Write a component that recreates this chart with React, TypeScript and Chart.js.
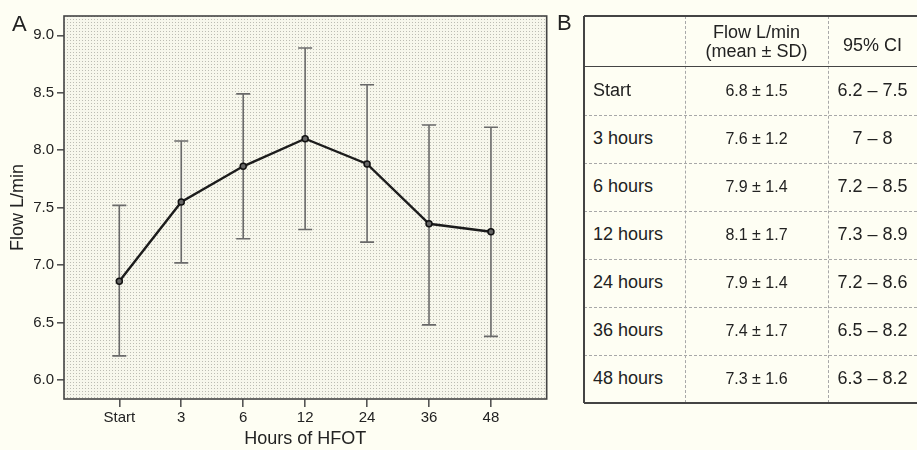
import React, { useEffect, useRef } from 'react';
import { Chart, registerables } from 'chart.js';

Chart.register(...registerables);

// ---- Panel A data ----
const categories = ['Start', '3', '6', '12', '24', '36', '48'];
const meanFlow = [6.86, 7.55, 7.86, 8.1, 7.88, 7.36, 7.29];
const upperCI = [7.52, 8.08, 8.49, 8.89, 8.57, 8.22, 8.2];
const lowerCI = [6.21, 7.02, 7.23, 7.31, 7.2, 6.48, 6.38];
const yTickValues = [6.0, 6.5, 7.0, 7.5, 8.0, 8.5, 9.0];

// ---- Panel B data ----
const rowLabels = ['Start', '3 hours', '6 hours', '12 hours', '24 hours', '36 hours', '48 hours'];
const tableMean = [6.8, 7.6, 7.9, 8.1, 7.9, 7.4, 7.3];
const tableSd = [1.5, 1.2, 1.4, 1.7, 1.4, 1.7, 1.6];
const tableCiLow = [6.2, 7, 7.2, 7.3, 7.2, 6.5, 6.3];
const tableCiHigh = [7.5, 8, 8.5, 8.9, 8.6, 8.2, 8.2];

const FONT = '"Liberation Sans", Arial, Helvetica, sans-serif';
const PAGE_BG = '#fefef3';
const TEXT = '#222';

function makePattern(ctx: CanvasRenderingContext2D) {
  const c = document.createElement('canvas');
  c.width = 3;
  c.height = 3;
  const p = c.getContext('2d')!;
  p.fillStyle = '#f7f7ec';
  p.fillRect(0, 0, 3, 3);
  p.fillStyle = '#bcbcb3';
  p.fillRect(1, 1, 1, 1);
  return ctx.createPattern(c, 'repeat');
}

const plotPlugin = {
  id: 'plotDecor',
  beforeDatasetsDraw(chart: any) {
    const { ctx, chartArea: a, scales } = chart;
    ctx.save();
    const pat = makePattern(ctx);
    ctx.fillStyle = pat || '#f2f2e6';
    ctx.fillRect(a.left, a.top, a.right - a.left, a.bottom - a.top);
    // error bars
    ctx.strokeStyle = '#6a6a6a';
    ctx.lineWidth = 1.6;
    const xs = scales.x;
    const ys = scales.y;
    for (let i = 0; i < categories.length; i++) {
      const x = xs.getPixelForValue(i);
      const yu = ys.getPixelForValue(upperCI[i]);
      const yl = ys.getPixelForValue(lowerCI[i]);
      ctx.beginPath();
      ctx.moveTo(x, yu);
      ctx.lineTo(x, yl);
      ctx.moveTo(x - 7, yu);
      ctx.lineTo(x + 7, yu);
      ctx.moveTo(x - 7, yl);
      ctx.lineTo(x + 7, yl);
      ctx.stroke();
    }
    ctx.restore();
  },
  afterDraw(chart: any) {
    const { ctx, chartArea: a } = chart;
    ctx.save();
    ctx.strokeStyle = '#444';
    ctx.lineWidth = 1.6;
    ctx.strokeRect(a.left, a.top, a.right - a.left, a.bottom - a.top);
    ctx.fillStyle = TEXT;
    ctx.font = `22px ${FONT}`;
    ctx.textBaseline = 'alphabetic';
    ctx.textAlign = 'left';
    ctx.fillText('A', 12, 30.5);
    ctx.restore();
  },
};

function FlowChart() {
  const ref = useRef<HTMLCanvasElement | null>(null);
  useEffect(() => {
    if (!ref.current) return;
    const chart = new Chart(ref.current, {
      type: 'line',
      data: {
        datasets: [
          {
            data: meanFlow.map((v, i) => ({ x: i, y: v })),
            borderColor: '#1c1c1c',
            borderWidth: 2.4,
            tension: 0,
            pointRadius: 3,
            pointBorderWidth: 1.5,
            pointBackgroundColor: '#666',
            pointBorderColor: '#111',
            fill: false,
          },
        ],
      },
      options: {
        responsive: false,
        animation: false,
        events: [],
        layout: { padding: { left: 0, top: 16, right: 13.3, bottom: 0 } },
        plugins: { legend: { display: false }, tooltip: { enabled: false }, title: { display: false } },
        scales: {
          x: {
            type: 'linear',
            min: -0.893,
            max: 6.9,
            afterBuildTicks: (s: any) => {
              s.ticks = categories.map((_, i) => ({ value: i }));
            },
            afterFit: (s: any) => {
              s.height = 51;
            },
            ticks: {
              autoSkip: false,
              maxRotation: 0,
              padding: 2,
              color: TEXT,
              font: { family: FONT, size: 15 },
              callback: (v: any) => categories[Math.round(Number(v))] ?? '',
            },
            grid: { drawOnChartArea: false, drawTicks: true, tickLength: 8, color: '#555', lineWidth: 1.6 },
            border: { display: false },
            title: {
              display: true,
              text: 'Hours of HFOT',
              color: TEXT,
              font: { family: FONT, size: 18 },
              padding: { top: 0, bottom: 0 },
            },
          },
          y: {
            type: 'linear',
            min: 5.835,
            max: 9.168,
            afterBuildTicks: (s: any) => {
              s.ticks = yTickValues.map((v) => ({ value: v }));
            },
            afterFit: (s: any) => {
              s.width = 64;
            },
            ticks: {
              padding: 3,
              color: TEXT,
              font: { family: FONT, size: 15 },
              callback: (v: any) => Number(v).toFixed(1),
            },
            grid: { drawOnChartArea: false, drawTicks: true, tickLength: 7, color: '#555', lineWidth: 1.6 },
            border: { display: false },
            title: {
              display: true,
              text: 'Flow L/min',
              color: TEXT,
              font: { family: FONT, size: 18 },
              padding: { top: 7.7, bottom: 0 },
            },
          },
        },
      },
      plugins: [plotPlugin],
    } as any);
    return () => chart.destroy();
  }, []);
  return <canvas ref={ref} width={560} height={450} style={{ width: 560, height: 450, display: 'block' }} />;
}

function FlowTable() {
  const colX = [0, 101, 244, 333];
  const headerH = 50.7;
  const totalH = 387;
  const rowH = (totalH - headerH) / rowLabels.length;
  const solid = '#444';
  const dash = '1px dashed #a8a8a8';
  const lines: React.ReactNode[] = [];
  for (let k = 1; k < rowLabels.length; k++) {
    lines.push(
      <div key={'r' + k} style={{ position: 'absolute', left: 0, width: 333, top: headerH + k * rowH, borderTop: dash }} />
    );
  }
  [colX[1], colX[2]].forEach((x, i) => {
    lines.push(<div key={'c' + i} style={{ position: 'absolute', top: 0, height: totalH, left: x, borderLeft: dash }} />);
  });
  const cell = (
    key: string,
    left: number,
    width: number,
    top: number,
    height: number,
    content: React.ReactNode,
    align: 'left' | 'center',
    size: number
  ) => (
    <div
      key={key}
      style={{
        position: 'absolute',
        left,
        width,
        top,
        height,
        display: 'flex',
        alignItems: 'center',
        justifyContent: align === 'left' ? 'flex-start' : 'center',
        paddingLeft: align === 'left' ? 9 : 0,
        boxSizing: 'border-box',
        fontSize: size,
        color: TEXT,
        lineHeight: 1.1,
        textAlign: 'center',
        whiteSpace: 'nowrap',
      }}
    >
      {content}
    </div>
  );
  const cells: React.ReactNode[] = [];
  cells.push(
    cell('h2', colX[1], colX[2] - colX[1], 1, headerH, <span>Flow L/min<br />(mean ± SD)</span>, 'center', 18)
  );
  cells.push(cell('h3', colX[2], colX[3] - colX[2], 5, headerH, '95% CI', 'center', 18));
  rowLabels.forEach((lab, i) => {
    const top = headerH + i * rowH;
    cells.push(cell('l' + i, 0, colX[1], top, rowH, lab, 'left', 18));
    cells.push(
      cell('m' + i, colX[1], colX[2] - colX[1], top, rowH, `${tableMean[i].toFixed(1)} ± ${tableSd[i].toFixed(1)}`, 'center', 16)
    );
    cells.push(
      cell('c' + i, colX[2], colX[3] - colX[2], top, rowH, `${String(tableCiLow[i])} – ${String(tableCiHigh[i])}`, 'center', 18)
    );
  });
  return (
    <div style={{ position: 'absolute', left: 584, top: 16, width: 333, height: totalH, fontFamily: FONT }}>
      {lines}
      {cells}
      <div style={{ position: 'absolute', left: -0.8, top: 0, width: 1.6, height: totalH, background: solid }} />
      <div style={{ position: 'absolute', left: 0, top: -0.8, width: 333, height: 1.6, background: solid }} />
      <div style={{ position: 'absolute', left: 0, top: headerH - 0.8, width: 333, height: 1.6, background: solid }} />
      <div style={{ position: 'absolute', left: 0, top: totalH - 0.8, width: 333, height: 1.6, background: solid }} />
    </div>
  );
}

export default function App() {
  return (
    <div
      style={{
        position: 'absolute',
        left: 0,
        top: 0,
        width: 917,
        height: 450,
        overflow: 'hidden',
        background: PAGE_BG,
        fontFamily: FONT,
      }}
    >
      <div style={{ position: 'absolute', left: 0, top: 0 }}>
        <FlowChart />
      </div>
      <div
        style={{
          position: 'absolute',
          left: 557,
          top: 12.4,
          fontSize: 22,
          lineHeight: 1,
          color: TEXT,
          fontFamily: FONT,
        }}
      >
        B
      </div>
      <FlowTable />
    </div>
  );
}
